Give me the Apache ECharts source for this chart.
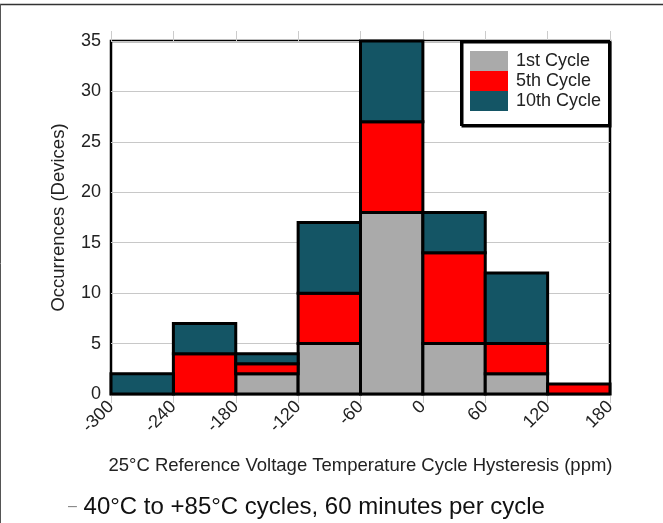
<!DOCTYPE html>
<html>
<head>
<meta charset="utf-8">
<script src="https://cdn.jsdelivr.net/npm/echarts@6/dist/echarts.min.js"></script>
<style>html,body{margin:0;padding:0;background:#fff;}#c{width:663px;height:523px;}</style>
</head>
<body>
<div id="c"></div>
<script>
var binStarts = [-300, -240, -180, -120, -60, 0, 60, 120];
var binWidth = 60;
var seriesNames = ['1st Cycle', '5th Cycle', '10th Cycle'];
var cycle1 = [0, 0, 2, 5, 18, 5, 2, 0];
var cycle5 = [0, 4, 1, 5, 9, 9, 3, 1];
var cycle10 = [2, 3, 1, 7, 8, 4, 7, 0];
var colors = ['#aaaaaa', '#ff0000', '#145565'];
var yTicks = [0, 5, 10, 15, 20, 25, 30, 35];

var all = [cycle1, cycle5, cycle10];
var cum = binStarts.map(function () { return 0; });
var series = all.map(function (vals, si) {
  var data = [];
  vals.forEach(function (v, i) {
    var base = cum[i];
    cum[i] += v;
    data.push([binStarts[i], binStarts[i] + binWidth, base, base + v]);
  });
  return {
    type: 'custom',
    name: seriesNames[si],
    itemStyle: { color: colors[si] },
    z: 2,
    renderItem: function (params, api) {
      if (api.value(3) - api.value(2) <= 0) return null;
      var p0 = api.coord([api.value(0), api.value(2)]);
      var p1 = api.coord([api.value(1), api.value(3)]);
      return {
        type: 'rect',
        shape: { x: p0[0], y: p1[1], width: p1[0] - p0[0], height: p0[1] - p1[1] },
        style: { fill: colors[si], stroke: '#000', lineWidth: 3 }
      };
    },
    encode: { x: [0, 1], y: [2, 3] },
    data: data
  };
});

var FONT = 'Liberation Sans, Arial, sans-serif';
var chart = echarts.init(document.getElementById('c'));
chart.setOption({
  animation: false,
  textStyle: { fontFamily: FONT },
  grid: { left: 111, right: 53, top: 41, bottom: 129, show: true, borderColor: '#000', borderWidth: 2.5, backgroundColor: 'transparent' },
  legend: {
    left: 464, top: 47, orient: 'vertical', itemGap: 0, itemWidth: 38, itemHeight: 20,
    icon: 'rect', padding: [4, 6, 4, 6], z: 6,
    textStyle: { fontSize: 18, color: '#222', padding: [0, 0, 0, 3] },
    data: seriesNames
  },
  xAxis: [{
    type: 'value', min: -300, max: 180, interval: 60, position: 'bottom',
    name: '25°C Reference Voltage Temperature Cycle Hysteresis (ppm)',
    nameLocation: 'middle', nameGap: 62,
    nameTextStyle: { fontSize: 18.5, color: '#222' },
    axisLine: { show: false },
    axisTick: { show: true, length: 9, inside: false, lineStyle: { color: '#ccc' } },
    splitLine: { show: false },
    axisLabel: { rotate: 45, fontSize: 18, color: '#222', margin: 10, showMinLabel: true, showMaxLabel: true }
  }, {
    type: 'value', min: -300, max: 180, interval: 60, position: 'top',
    axisLine: { show: false },
    axisTick: { show: true, length: 10, inside: false, lineStyle: { color: '#ccc' } },
    axisLabel: { show: false }, splitLine: { show: false }
  }],
  yAxis: {
    type: 'value', min: yTicks[0], max: yTicks[yTicks.length - 1], interval: 5,
    name: 'Occurrences (Devices)', nameLocation: 'middle', nameGap: 43,
    nameTextStyle: { fontSize: 18.5, color: '#222' },
    axisLine: { show: false }, axisTick: { show: false },
    splitLine: { show: true, lineStyle: { color: '#c8c8c8', width: 1 } },
    axisLabel: { fontSize: 18, color: '#222', margin: 10 }
  },
  graphic: [
    { type: 'line', shape: { x1: 0, y1: 4.5, x2: 663, y2: 4.5 }, style: { stroke: '#333', lineWidth: 1.5 }, z: 10 },
    { type: 'line', shape: { x1: 0.5, y1: 4, x2: 0.5, y2: 523 }, style: { stroke: '#555', lineWidth: 1 }, z: 10 },
    { type: 'rect', shape: { x: 461, y: 41, width: 148, height: 84 },
      style: { fill: '#fff', stroke: '#000', lineWidth: 2, shadowColor: '#000', shadowOffsetX: 1.5, shadowOffsetY: 1.5, shadowBlur: 0 }, z: 5 },
    { type: 'text', left: 68, top: 495, z: 10,
      style: { text: '{d|–} 40°C to +85°C cycles, 60 minutes per cycle', font: '24px Liberation Sans, Arial, sans-serif', fill: '#111',
        rich: { d: { fill: '#888', font: '16px Liberation Sans, Arial, sans-serif' } } } }
  ],
  series: series
});
</script>
</body>
</html>
